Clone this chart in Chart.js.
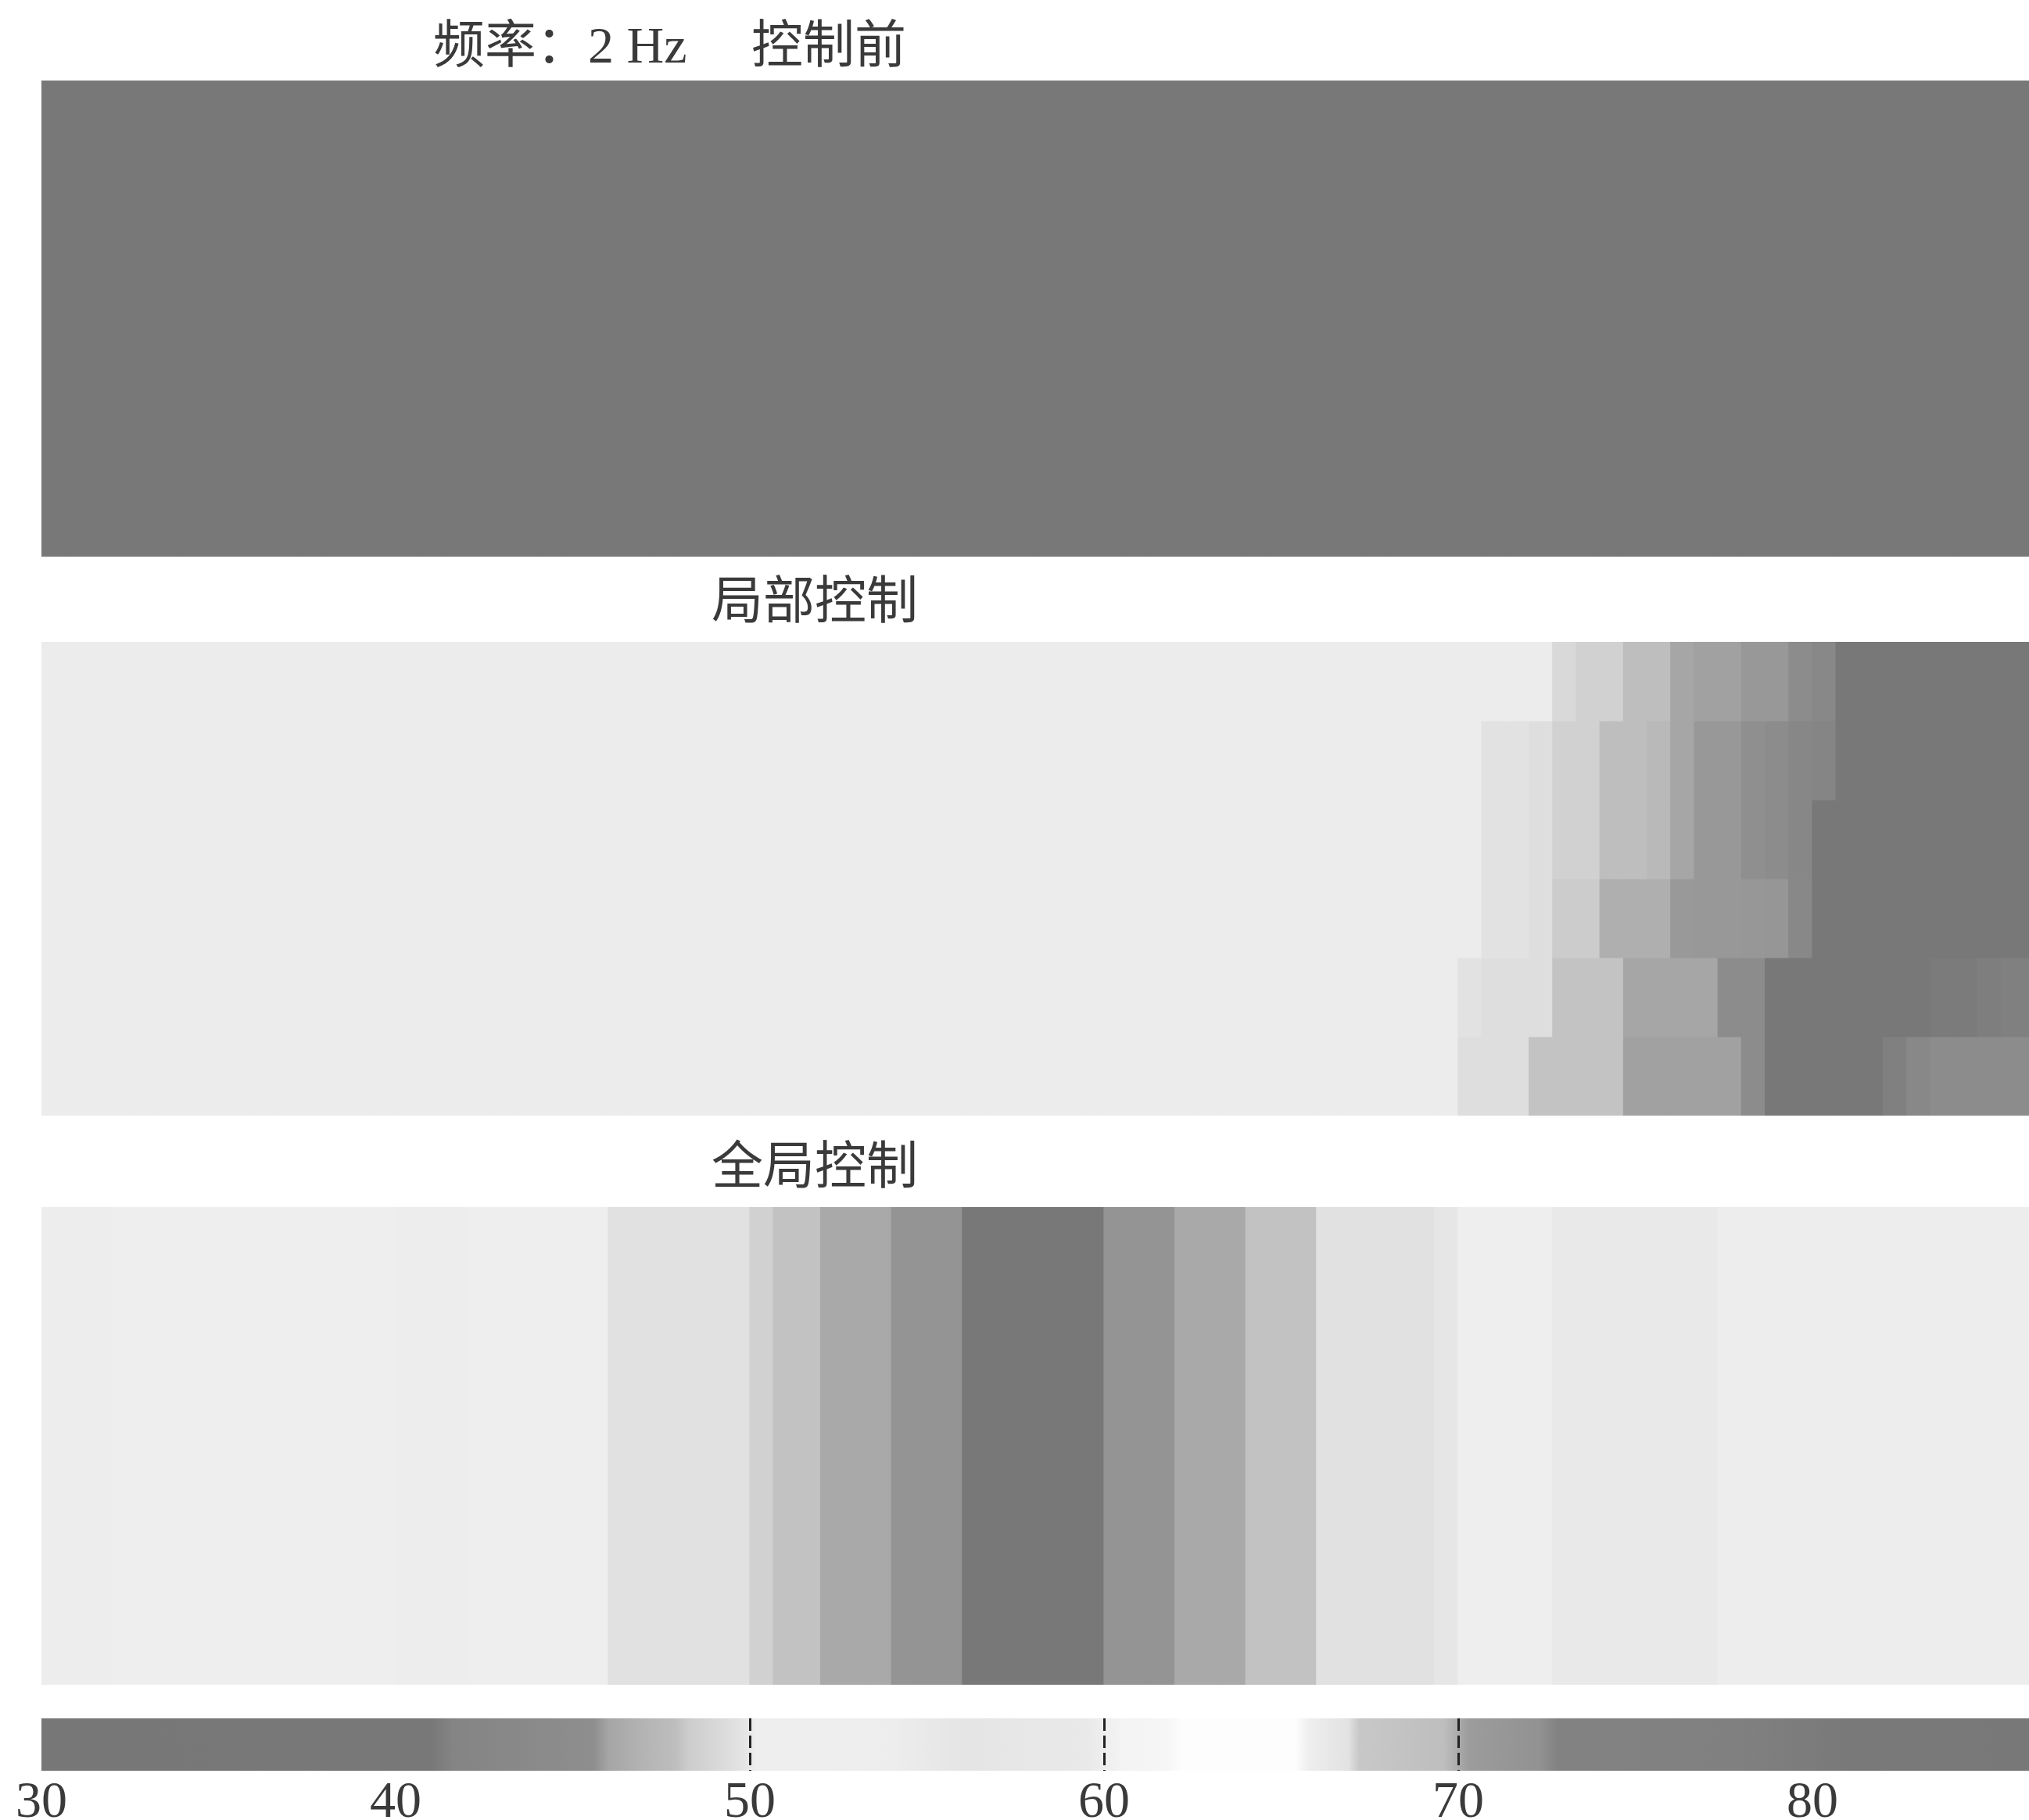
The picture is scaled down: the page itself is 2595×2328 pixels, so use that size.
<!DOCTYPE html>
<html>
<head>
<meta charset="utf-8">
<script src="https://cdn.jsdelivr.net/npm/chart.js@4.4.1/dist/chart.umd.min.js"></script>
<style>
  html, body { margin: 0; background: #fff; width: 2595px; height: 2328px; overflow: hidden; }
  canvas { position: absolute; left: 0; }
  .ttl { position: absolute; font-family: "Liberation Serif", "Noto Sans CJK SC", serif; font-size: 66px;
         line-height: 1; color: #3a3a3a; white-space: pre; }
</style>
</head>
<body>
<div class="ttl" style="left:554px; top:25px">频率：2 Hz     控制前</div>
<div class="ttl" style="left:910px; top:736px">局部控制</div>
<div class="ttl" style="left:910px; top:1459px">全局控制</div>

<canvas id="before" width="2830" height="609" style="top:103px"></canvas>
<canvas id="local" width="2830" height="606" style="top:821px"></canvas>
<canvas id="global" width="2830" height="611" style="top:1544px"></canvas>
<canvas id="colorbar" width="2830" height="130" style="top:2198px"></canvas>

<script>
const cmapValues = [30, 41, 41.6, 45.6, 46.0, 47.0, 47.9, 48.3, 49.2, 49.9, 50.2, 54, 56, 59.5, 60.5, 61.8, 62.2,
                    65.4, 65.8, 66.9, 67.2, 69.6, 70.3, 72.3, 72.8, 78, 81, 90];
const cmapGrays  = [119, 120, 132, 142, 165, 180, 190, 205, 218, 230, 238, 237, 229, 233, 243, 246, 253,
                    253, 238, 226, 200, 190, 156, 146, 130, 128, 121, 119];
const colorbarRange = [30, 90];

// sound level along the strip, one value per column (left -> right)
const beforeRow = [
  86, 86, 86, 86, 86, 86, 86, 86, 86, 86, 86, 86, 86, 86, 86, 86, 86, 86, 86, 86,
  86, 86, 86, 86, 86, 86, 86, 86, 86, 86, 86, 86, 86, 86, 86, 86, 86, 86, 86, 86,
  86, 86, 86, 86, 86, 86, 86, 86, 86, 86, 86, 86, 86, 86, 86, 86, 86, 86, 86, 86,
  86, 86, 86, 86, 86, 86, 86, 86, 86, 86, 86, 86, 86, 86, 86, 86, 86, 86, 86, 86,
  86, 86, 86, 86, 86, 86, 86, 86, 86, 86
];

// local control: six rows, top -> bottom
const localRow1 = [
  59.8, 59.8, 59.8, 59.8, 59.8, 59.8, 59.8, 59.8, 59.8, 59.8, 59.8, 59.8, 59.8, 59.8, 59.8, 59.8, 59.8, 59.8, 59.8, 59.8,
  59.8, 59.8, 59.8, 59.8, 59.8, 59.8, 59.8, 59.8, 59.8, 59.8, 59.8, 59.8, 59.8, 59.8, 59.8, 59.8, 59.8, 59.8, 59.8, 59.8,
  59.8, 59.8, 59.8, 59.8, 59.8, 59.8, 59.8, 59.8, 59.8, 59.8, 59.8, 59.8, 59.8, 59.8, 59.8, 59.8, 59.8, 59.8, 59.8, 59.8,
  59.8, 59.8, 59.8, 59.8, 67.0, 67.1, 67.1, 69.6, 69.6, 70.1, 70.2, 70.2, 71.1, 71.1, 72.5, 72.6, 86, 86, 86, 86,
  86, 86, 86, 86, 86, 86, 86, 86, 86, 86
];
const localRow2 = [
  59.8, 59.8, 59.8, 59.8, 59.8, 59.8, 59.8, 59.8, 59.8, 59.8, 59.8, 59.8, 59.8, 59.8, 59.8, 59.8, 59.8, 59.8, 59.8, 59.8,
  59.8, 59.8, 59.8, 59.8, 59.8, 59.8, 59.8, 59.8, 59.8, 59.8, 59.8, 59.8, 59.8, 59.8, 59.8, 59.8, 59.8, 59.8, 59.8, 59.8,
  59.8, 59.8, 59.8, 59.8, 59.8, 59.8, 59.8, 59.8, 59.8, 59.8, 59.8, 59.8, 59.8, 59.8, 59.8, 59.8, 59.8, 59.8, 59.8, 59.8,
  59.8, 66.9, 66.9, 66.95, 67.1, 67.1, 69.6, 69.6, 69.7, 70.1, 71.1, 71.1, 72.4, 72.5, 72.65, 72.7, 86, 86, 86, 86,
  86, 86, 86, 86, 86, 86, 86, 86, 86, 86
];
const localRow3 = [
  59.8, 59.8, 59.8, 59.8, 59.8, 59.8, 59.8, 59.8, 59.8, 59.8, 59.8, 59.8, 59.8, 59.8, 59.8, 59.8, 59.8, 59.8, 59.8, 59.8,
  59.8, 59.8, 59.8, 59.8, 59.8, 59.8, 59.8, 59.8, 59.8, 59.8, 59.8, 59.8, 59.8, 59.8, 59.8, 59.8, 59.8, 59.8, 59.8, 59.8,
  59.8, 59.8, 59.8, 59.8, 59.8, 59.8, 59.8, 59.8, 59.8, 59.8, 59.8, 59.8, 59.8, 59.8, 59.8, 59.8, 59.8, 59.8, 59.8, 59.8,
  59.8, 66.9, 66.9, 66.95, 67.1, 67.1, 69.6, 69.6, 69.7, 70.1, 71.1, 71.1, 72.4, 72.5, 72.65, 86, 86, 86, 86, 86,
  86, 86, 86, 86, 86, 86, 86, 86, 86, 86
];
const localRow4 = [
  59.8, 59.8, 59.8, 59.8, 59.8, 59.8, 59.8, 59.8, 59.8, 59.8, 59.8, 59.8, 59.8, 59.8, 59.8, 59.8, 59.8, 59.8, 59.8, 59.8,
  59.8, 59.8, 59.8, 59.8, 59.8, 59.8, 59.8, 59.8, 59.8, 59.8, 59.8, 59.8, 59.8, 59.8, 59.8, 59.8, 59.8, 59.8, 59.8, 59.8,
  59.8, 59.8, 59.8, 59.8, 59.8, 59.8, 59.8, 59.8, 59.8, 59.8, 59.8, 59.8, 59.8, 59.8, 59.8, 59.8, 59.8, 59.8, 59.8, 59.8,
  59.8, 66.9, 66.9, 66.95, 67.15, 67.15, 69.9, 69.9, 69.9, 71.0, 71.1, 71.1, 71.2, 71.6, 72.6, 86, 86, 86, 86, 86,
  86, 86, 86, 86, 86, 86, 86, 86, 86, 86
];
const localRow5 = [
  59.8, 59.8, 59.8, 59.8, 59.8, 59.8, 59.8, 59.8, 59.8, 59.8, 59.8, 59.8, 59.8, 59.8, 59.8, 59.8, 59.8, 59.8, 59.8, 59.8,
  59.8, 59.8, 59.8, 59.8, 59.8, 59.8, 59.8, 59.8, 59.8, 59.8, 59.8, 59.8, 59.8, 59.8, 59.8, 59.8, 59.8, 59.8, 59.8, 59.8,
  59.8, 59.8, 59.8, 59.8, 59.8, 59.8, 59.8, 59.8, 59.8, 59.8, 59.8, 59.8, 59.8, 59.8, 59.8, 59.8, 59.8, 59.8, 59.8, 59.8,
  66.9, 66.95, 66.95, 66.95, 68.4, 68.4, 68.4, 70.1, 70.1, 70.1, 70.1, 72.5, 72.5, 86, 86, 86, 86, 86, 86, 86,
  80, 80, 79, 77, 77, 77, 77, 77, 77, 77
];
const localRow6 = [
  59.8, 59.8, 59.8, 59.8, 59.8, 59.8, 59.8, 59.8, 59.8, 59.8, 59.8, 59.8, 59.8, 59.8, 59.8, 59.8, 59.8, 59.8, 59.8, 59.8,
  59.8, 59.8, 59.8, 59.8, 59.8, 59.8, 59.8, 59.8, 59.8, 59.8, 59.8, 59.8, 59.8, 59.8, 59.8, 59.8, 59.8, 59.8, 59.8, 59.8,
  59.8, 59.8, 59.8, 59.8, 59.8, 59.8, 59.8, 59.8, 59.8, 59.8, 59.8, 59.8, 59.8, 59.8, 59.8, 59.8, 59.8, 59.8, 59.8, 59.8,
  66.95, 66.95, 66.95, 68.4, 68.4, 68.4, 68.4, 70.2, 70.2, 70.2, 70.2, 70.2, 72.5, 86, 86, 86, 86, 86, 78, 72.6,
  72.5, 72.5, 72.5, 72.5, 72.5, 72.5, 72.5, 72.5, 72.5, 72.5
];

const globalRow = [
  53, 53, 53, 52, 52, 52, 52, 52, 52, 52, 52, 52, 52, 52, 52, 53, 53, 53, 52, 52,
  52, 52, 52, 52, 49.6, 49.6, 49.6, 49.6, 49.6, 49.6, 48.6, 48.0, 48.0, 46.3, 46.3, 46.3, 45.7, 45.7, 45.7, 36,
  36, 36, 36, 36, 36, 45.7, 45.7, 45.7, 46.3, 46.3, 46.3, 48.0, 48.0, 48.0, 49.6, 49.6, 49.6, 49.6, 49.6, 49.9,
  52, 52, 52, 52, 55, 55, 55, 55, 55, 55, 55, 53, 53, 53, 53, 53, 53, 53, 53, 53,
  53, 53, 53, 53, 53, 53, 53, 53, 53, 53
];

function grayOf(v) {
  for (let i = 0; i < cmapValues.length - 1; i++) {
    if (v >= cmapValues[i] && v <= cmapValues[i + 1]) {
      const t = (v - cmapValues[i]) / (cmapValues[i + 1] - cmapValues[i]);
      return cmapGrays[i] + t * (cmapGrays[i + 1] - cmapGrays[i]);
    }
  }
  return cmapGrays[cmapGrays.length - 1];
}

function shade(v) {
  const g = Math.round(grayOf(v));
  return 'rgb(' + g + ',' + g + ',' + g + ')';
}

Chart.defaults.font.family = '"Liberation Serif", serif';
Chart.defaults.color = '#3a3a3a';

function heatmap(id, rows) {
  return new Chart(document.getElementById(id), {
    type: 'bar',
    data: {
      labels: rows[0].map((_, i) => i),
      datasets: rows.map(row => ({
        data: row.map(() => 1),
        backgroundColor: row.map(shade),
        borderWidth: 0,
        inflateAmount: 0.6,
        barPercentage: 1,
        categoryPercentage: 1,
        stack: 'map'
      }))
    },
    options: {
      responsive: false,
      animation: false,
      layout: { padding: { left: 53, right: 59, top: 0, bottom: 0 } },
      plugins: { legend: { display: false }, tooltip: { enabled: false } },
      scales: {
        x: { display: false, stacked: true },
        y: { display: false, stacked: true, reverse: true, min: 0, max: rows.length }
      }
    }
  });
}

heatmap('before', [beforeRow]);
heatmap('local', [localRow1, localRow2, localRow3, localRow4, localRow5, localRow6]);
heatmap('global', [globalRow]);

new Chart(document.getElementById('colorbar'), {
  type: 'bar',
  data: {
    labels: [''],
    datasets: [{
      data: [colorbarRange],
      backgroundColor: (ctx) => {
        const chart = ctx.chart;
        const x = chart.scales.x;
        if (!chart.chartArea || !x) return shade(colorbarRange[0]);
        const x0 = x.getPixelForValue(colorbarRange[0]);
        const x1 = x.getPixelForValue(colorbarRange[1]);
        const grad = chart.ctx.createLinearGradient(x0, 0, x1, 0);
        cmapValues.forEach(v => {
          grad.addColorStop((v - colorbarRange[0]) / (colorbarRange[1] - colorbarRange[0]), shade(v));
        });
        return grad;
      },
      borderWidth: 0,
      barPercentage: 1,
      categoryPercentage: 1
    }]
  },
  options: {
    indexAxis: 'y',
    responsive: false,
    animation: false,
    layout: { padding: { left: 53, right: 59, top: 0, bottom: 0 } },
    plugins: { legend: { display: false }, tooltip: { enabled: false } },
    scales: {
      x: {
        type: 'linear',
        position: 'bottom',
        min: colorbarRange[0],
        max: colorbarRange[1],
        afterFit: (scale) => { scale.height = 63; },
        ticks: { stepSize: 10, padding: 2, font: { size: 66 }, color: '#3a3a3a' },
        grid: {
          z: 1,
          drawTicks: false,
          lineWidth: 3,
          // tick marks only show where the bar is light
          color: (ctx) => (ctx.tick && ctx.tick.value > colorbarRange[0] && grayOf(ctx.tick.value) > 160)
            ? '#222' : 'rgba(0,0,0,0)'
        },
        border: { display: false, dash: [16, 6] }
      },
      y: { display: false }
    }
  }
});
</script>
</body>
</html>
